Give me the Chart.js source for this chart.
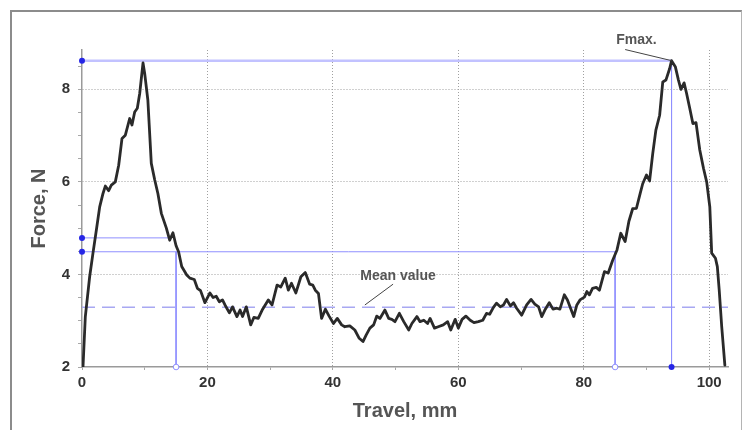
<!DOCTYPE html>
<html>
<head>
<meta charset="utf-8">
<script src="https://cdn.jsdelivr.net/npm/chart.js@4.4.1/dist/chart.umd.min.js"></script>
<style>
  html, body { margin: 0; padding: 0; background: #fff; }
  #wrap { position: relative; width: 742px; height: 430px; overflow: hidden; }
  #frame { position: absolute; left: 10px; top: 10px; width: 729px; height: 440px;
           border-left: 2px solid #8c8c8c; border-top: 2px solid #8c8c8c; border-right: 1px solid #b4b4b4; }
  canvas { position: absolute; left: 0; top: 0; }
</style>
</head>
<body>
<div id="wrap">
  <div id="frame"></div>
  <canvas id="forceChart" width="742" height="430"></canvas>
</div>
<script>
// --- DATA ---
const travelMm = [
  0.16, 0.53, 1.22, 1.75, 2.29, 2.82, 3.35, 3.72, 4.25, 4.68, 5.31, 5.85, 6.38, 6.91, 7.6, 7.97, 8.4, 8.82, 9.2, 9.73,
  10.0, 10.5, 11.05, 11.6, 12.1, 12.65, 13.45, 13.98, 14.5, 15.0, 15.4, 15.9, 16.7, 17.2, 17.9, 18.4, 18.9, 19.6,
  20.4, 20.9, 21.4, 21.9, 22.4, 22.8, 23.5, 24.0, 24.7, 25.2, 25.6, 26.2, 26.9, 27.4, 28.1, 28.8, 29.7,
  30.3, 31.1, 31.7, 32.4, 32.9, 33.4, 34.1, 34.9, 35.6, 36.3, 36.8, 37.2, 37.7, 38.2, 38.8, 39.4,
  40.1, 40.7, 41.4, 41.9, 42.7, 43.5, 44.2, 44.8, 45.3, 45.9, 46.5, 47.0, 47.5, 48.3, 48.9, 49.4, 49.9,
  50.6, 51.3, 52.1, 52.6, 53.4, 53.9, 54.5, 55.1, 55.5, 56.2, 56.8, 57.6, 58.3, 58.8, 59.5,
  60.0, 60.6, 61.2, 61.9, 62.5, 63.2, 63.9, 64.5, 65.0, 65.6, 66.1, 66.7, 67.2, 67.7, 68.3, 68.8, 69.3,
  70.1, 70.9, 71.6, 72.2, 72.8, 73.3, 73.8, 74.5, 75.1, 75.7, 76.2, 76.9, 77.4, 77.9, 78.4, 78.9, 79.4,
  80.1, 80.5, 80.9, 81.4, 82.0, 82.5, 83.3, 83.9, 84.6, 85.3, 85.9, 86.6, 87.2, 87.8, 88.4, 89.0, 89.4,
  90.0, 90.5, 91.0, 91.5, 92.1, 92.6, 93.1, 93.7, 94.0, 94.6, 95.1, 95.5, 96.0, 96.4, 96.9, 97.4, 97.9,
  98.5, 99.1, 99.6, 100.1, 100.4, 101.0, 101.3, 101.6, 102.0, 102.5
];
const forceN = [
  2.0, 3.09, 3.95, 4.46, 4.96, 5.46, 5.75, 5.91, 5.81, 5.93, 6.0, 6.36, 6.94, 7.01, 7.37, 7.23, 7.51, 7.59, 7.91, 8.57,
  8.34, 7.77, 6.4, 6.04, 5.75, 5.32, 5.0, 4.74, 4.9, 4.62, 4.49, 4.17, 3.99, 3.92, 3.89, 3.7, 3.65, 3.39,
  3.6, 3.5, 3.53, 3.41, 3.45, 3.34, 3.17, 3.3, 3.09, 3.23, 3.09, 3.3, 2.91, 3.07, 3.05, 3.25, 3.45,
  3.34, 3.77, 3.73, 3.92, 3.66, 3.81, 3.6, 3.95, 4.04, 3.79, 3.77, 3.66, 3.59, 3.05, 3.25, 3.1,
  2.94, 3.05, 2.91, 2.87, 2.89, 2.8, 2.62, 2.55, 2.69, 2.84, 2.91, 3.1, 3.05, 3.23, 3.05, 3.03, 2.98,
  3.16, 2.98, 2.8, 2.94, 3.09, 2.98, 3.01, 2.94, 3.05, 2.84, 2.87, 2.91, 2.98, 2.8, 3.03,
  2.84, 3.03, 3.1, 3.01, 2.96, 2.98, 3.01, 3.16, 3.14, 3.29, 3.38, 3.3, 3.34, 3.46, 3.32, 3.39, 3.27,
  3.12, 3.34, 3.46, 3.36, 3.3, 3.09, 3.23, 3.39, 3.25, 3.27, 3.25, 3.56, 3.45, 3.27, 3.09, 3.34, 3.45,
  3.51, 3.63, 3.56, 3.7, 3.72, 3.66, 4.06, 4.03, 4.3, 4.53, 4.89, 4.71, 5.15, 5.42, 5.43, 5.75, 5.96,
  6.15, 6.02, 6.61, 7.12, 7.44, 8.16, 8.2, 8.45, 8.62, 8.49, 8.2, 8.0, 8.14, 7.91, 7.59, 7.26, 7.28,
  6.69, 6.29, 6.0, 5.46, 4.46, 4.35, 4.17, 3.66, 2.87, 2.04
];

const xMin = 0, xMax = 103;
const yMin = 2, yMax = 8.85;
const xTicks = [0, 10, 20, 30, 40, 50, 60, 70, 80, 90, 100];
const xLabels = [0, 20, 40, 60, 80, 100];
const yTicks = [2, 2.5, 3, 3.5, 4, 4.5, 5, 5.5, 6, 6.5, 7, 7.5, 8, 8.5];
const yLabels = [2, 4, 6, 8];

// evaluation markers
const fMax = 8.62, fMaxTravel = 94;
const meanForce = 3.29;
const levelForce = [4.79, 4.49];
const levelEnd = [14, 85];
const dropTravel = [15, 85];

const notes = [
  { text: 'Fmax.', at: [88.4, 9.07], from: [86.6, 8.86], to: [94, 8.62] },
  { text: 'Mean value', at: [50.4, 3.97], from: [49.6, 3.79], to: [45.1, 3.34] }
];

const FONT = "'Liberation Sans', Arial, sans-serif";
const GUIDE = '#8f8fff';

// --- HELPERS ---
const pt = (x, y) => ({ x, y });
function guide(points, extra) {
  return Object.assign({
    data: points, showLine: true, pointRadius: 0, borderWidth: 1,
    borderColor: GUIDE, clip: false
  }, extra || {});
}

const notesPlugin = {
  id: 'notes',
  afterDatasetsDraw(chart) {
    const { ctx, scales: { x, y } } = chart;
    ctx.save();
    ctx.font = `bold 14px ${FONT}`;
    ctx.fillStyle = '#555';
    ctx.textAlign = 'center';
    ctx.textBaseline = 'middle';
    ctx.strokeStyle = '#444';
    ctx.lineWidth = 1;
    notes.forEach(n => {
      ctx.fillText(n.text, x.getPixelForValue(n.at[0]), y.getPixelForValue(n.at[1]));
      ctx.beginPath();
      ctx.moveTo(x.getPixelForValue(n.from[0]), y.getPixelForValue(n.from[1]));
      ctx.lineTo(x.getPixelForValue(n.to[0]), y.getPixelForValue(n.to[1]));
      ctx.stroke();
    });
    ctx.restore();
  }
};

// --- CHART ---
new Chart(document.getElementById('forceChart'), {
  type: 'scatter',
  data: {
    datasets: [
      {
        data: travelMm.map((t, i) => pt(t, forceN[i])),
        showLine: true, pointRadius: 0, borderColor: '#2a2a2a', borderWidth: 2.8, tension: 0,
        borderCapStyle: 'round', borderJoinStyle: 'round'
      },
      {
        data: [pt(xMin, fMax), pt(xMin, levelForce[0]), pt(xMin, levelForce[1]), pt(fMaxTravel, yMin)],
        showLine: false, pointRadius: 3, pointBackgroundColor: '#2626e6', pointBorderWidth: 0, clip: false
      },
      {
        data: dropTravel.map(t => pt(t, yMin)),
        showLine: false, pointRadius: 2.8, pointBackgroundColor: '#fff',
        pointBorderColor: GUIDE, pointBorderWidth: 1, clip: false
      },
      guide([pt(xMin, fMax), pt(fMaxTravel, fMax)], { borderColor: '#c2c2ff', borderWidth: 2.5 }),
      guide([pt(fMaxTravel, fMax), pt(fMaxTravel, yMin)]),
      guide([pt(xMin, levelForce[0]), pt(levelEnd[0], levelForce[0])]),
      guide([pt(xMin, levelForce[1]), pt(levelEnd[1], levelForce[1])]),
      guide([pt(dropTravel[0], levelForce[1]), pt(dropTravel[0], yMin)]),
      guide([pt(dropTravel[1], levelForce[1]), pt(dropTravel[1], yMin)]),
      guide([pt(xMin, meanForce), pt(xMax, meanForce)], { borderColor: '#a8a8f2', borderWidth: 1.5, borderDash: [13, 7] })
    ]
  },
  options: {
    responsive: false,
    devicePixelRatio: 1,
    animation: false,
    layout: { padding: { top: 50, right: 14, left: 0, bottom: 0 } },
    plugins: { legend: { display: false }, tooltip: { enabled: false } },
    scales: {
      x: {
        type: 'linear', min: xMin, max: xMax,
        afterBuildTicks: s => { s.ticks = xTicks.map(v => ({ value: v })); },
        afterFit: s => { s.height = 63; },
        ticks: {
          autoSkip: false, maxRotation: 0, padding: 4, color: '#333',
          font: { family: FONT, size: 15, weight: 'bold' },
          callback: v => xLabels.includes(v) ? String(v) : ''
        },
        grid: {
          color: c => (c.tick && c.tick.value > 0 && xLabels.includes(c.tick.value)) ? '#a0a0a0' : 'transparent',
          tickColor: '#a8a8a8', tickLength: 3, lineWidth: 1
        },
        border: { color: '#9a9a9a', width: 1.5, dash: [1, 2] },
        title: {
          display: true, text: 'Travel, mm', color: '#555',
          font: { family: FONT, size: 20, weight: 'bold' }, padding: { top: 4, bottom: 7 }
        }
      },
      y: {
        type: 'linear', min: yMin, max: yMax,
        afterBuildTicks: s => { s.ticks = yTicks.map(v => ({ value: v })); },
        afterFit: s => { s.width = 82; },
        ticks: {
          autoSkip: false, padding: 8, color: '#333',
          font: { family: FONT, size: 15, weight: 'bold' },
          callback: v => yLabels.includes(v) ? String(v) : ''
        },
        grid: {
          color: c => (c.tick && c.tick.value > yMin && yLabels.includes(c.tick.value)) ? '#a0a0a0' : 'transparent',
          tickColor: '#a8a8a8', tickLength: 4, lineWidth: 1
        },
        border: { color: '#9a9a9a', width: 1.5, dash: [1, 2] },
        title: {
          display: true, text: 'Force, N', color: '#555',
          font: { family: FONT, size: 20, weight: 'bold' }, padding: { top: 27, bottom: 4 }
        }
      }
    }
  },
  plugins: [notesPlugin]
});
</script>
</body>
</html>
